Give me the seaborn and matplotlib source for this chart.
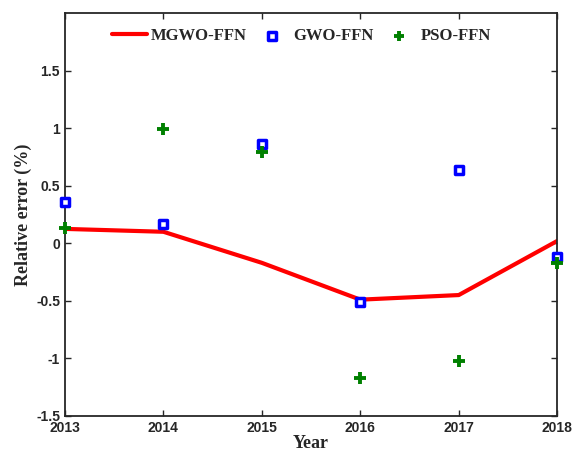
import matplotlib
matplotlib.use("Agg")
import matplotlib.pyplot as plt
import pandas as pd
import seaborn as sns

# values
years = [2013, 2014, 2015, 2016, 2017, 2018]
mgwo_ffn = [0.125, 0.10, -0.17, -0.49, -0.45, 0.02]
gwo_ffn = [0.36, 0.17, 0.86, -0.51, 0.635, -0.12]
pso_ffn = [0.135, 0.99, 0.79, -1.17, -1.02, -0.175]
y_ticks = [-1.5, -1, -0.5, 0, 0.5, 1, 1.5]
y_tick_labels = ["-1.5", "-1", "-0.5", "0", "0.5", "1", "1.5"]

df = pd.DataFrame({"Year": years, "MGWO-FFN": mgwo_ffn,
                   "GWO-FFN": gwo_ffn, "PSO-FFN": pso_ffn})

sns.set_style("ticks")
plt.rcParams['font.family'] = ['Liberation Sans', 'DejaVu Sans']

fig = plt.figure(figsize=(5.75, 4.54), dpi=100)
ax = fig.add_axes([0.113, 0.084, 0.856, 0.887])

sns.lineplot(data=df, x="Year", y="MGWO-FFN", color="#ff0000", linewidth=3,
             label="MGWO-FFN", ax=ax)
sns.scatterplot(data=df, x="Year", y="GWO-FFN", marker="s", s=40,
                facecolor="white", edgecolor="#0000ff", linewidth=2.5,
                label="GWO-FFN", ax=ax, zorder=3)
sns.scatterplot(data=df, x="Year", y="PSO-FFN", marker="+", s=80,
                color="#008000", linewidth=2.8, label="PSO-FFN", ax=ax, zorder=4)
# markers on the axis edges are drawn whole
for coll in ax.collections:
    coll.set_clip_on(False)

ax.set_xlim(2013, 2018)
ax.set_ylim(-1.5, 2.0)
ax.set_xticks(years)
ax.set_xticklabels([str(y) for y in years])
ax.set_yticks(y_ticks)
ax.set_yticklabels(y_tick_labels)
ax.tick_params(direction="in", top=True, right=True, length=4, width=1,
               labelsize=10)
ax.tick_params(axis="x", pad=4)
for lab in ax.get_xticklabels() + ax.get_yticklabels():
    lab.set_fontweight("bold")
for sp in ax.spines.values():
    sp.set_linewidth(1.3)

ax.set_xlabel("Year", family="Liberation Serif", fontweight="bold",
              fontsize=13, labelpad=0)
ax.set_ylabel("Relative error (%)", family="Liberation Serif",
              fontweight="bold", fontsize=13, labelpad=3)

leg = ax.legend(loc="upper center", ncol=3, frameon=False,
                prop={"family": "Liberation Serif", "weight": "bold", "size": 12},
                handlelength=2.1, columnspacing=0.45, handletextpad=0.25,
                bbox_to_anchor=(0.48, 1.0), markerscale=0.8)

fig.savefig("out.png", dpi=100)
